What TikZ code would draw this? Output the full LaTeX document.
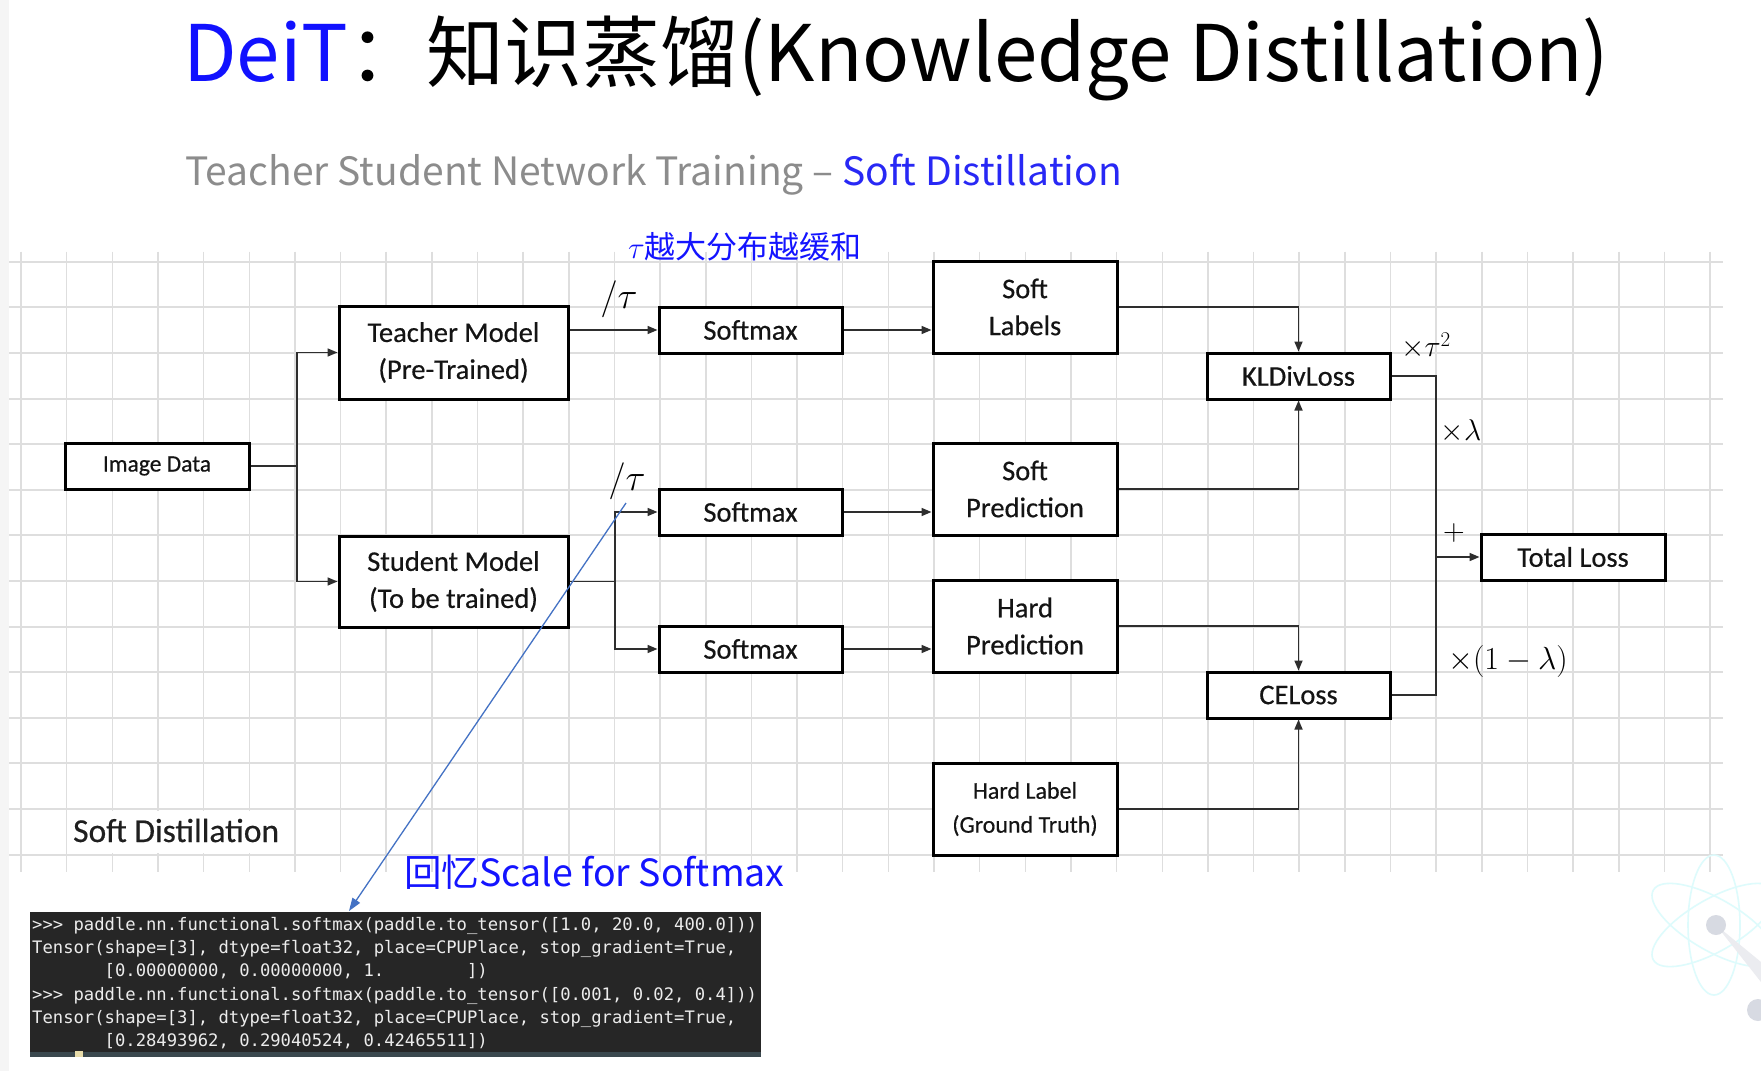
\documentclass[tikz,border=0pt]{standalone}
\usepackage{fix-cm}
\usepackage{fontspec}
\setmainfont{Carlito}[FakeBold=0.5]
\newfontfamily\cjkfont{Noto Sans CJK SC}
\newfontfamily\codefont{DejaVu Sans Mono}
\usetikzlibrary{arrows.meta,calc}
\definecolor{titleblue}{RGB}{17,17,255}
\definecolor{subblue}{RGB}{40,40,245}
\definecolor{subgray}{RGB}{140,140,140}
\definecolor{noteblue}{RGB}{20,20,255}
\definecolor{gridc}{RGB}{222,222,222}
\definecolor{linkblue}{RGB}{68,114,196}
\definecolor{codebg}{RGB}{38,38,38}
\definecolor{codefg}{RGB}{236,236,236}
\definecolor{codebar}{RGB}{58,72,78}
\definecolor{cursorc}{RGB}{232,220,170}
\definecolor{atomc}{RGB}{222,251,252}
\definecolor{dotc}{RGB}{215,218,226}
\tikzset{
  boxn/.style={draw=black, line width=3pt, fill=white, align=center, inner sep=0pt,
    text=black!92, font=\fontsize{28.5}{37}\selectfont},
  conn/.style={draw=black!82, line width=1.6pt},
  arr/.style={conn, -{Triangle[length=10pt,width=8pt]}},
  mlab/.style={inner sep=0pt, font=\fontsize{30}{36}\selectfont},
  codeline/.style={anchor=base west, inner sep=0pt, text=codefg, font=\codefont\fontsize{17.2}{20}\selectfont},
}
\newcommand\gtr{>\kern0pt>\kern0pt>}
\begin{document}
\begin{tikzpicture}[x=1pt,y=-1pt]
\useasboundingbox (0,0) rectangle (1761,1071);
\fill[white] (0,0) rectangle (1761,1071);
\fill[gray!8] (0,0) rectangle (9,1071);
% grid
\foreach \i in {0,...,37} \draw[gridc, line width=1.5pt] ({21+45.65*\i},251.7) -- ({21+45.65*\i},871.7);
\foreach \j in {0,...,13} \draw[gridc, line width=2pt] (9,{261.7+45.6*\j}) -- (1723,{261.7+45.6*\j});
% atom watermark
\begin{scope}
\clip (1600,840) rectangle (1761,1071);
\foreach \a in {0,60,-60} \draw[atomc, line width=1.6pt, rotate around={\a:(1714,925)}] (1714,925) ellipse [x radius=26, y radius=70];
\fill[dotc!50] (1716,925) -- (1761,962) -- (1761,982) -- cycle;
\fill[dotc] (1716,925) circle (10);
\fill[dotc] (1758,1010) circle (11);
\end{scope}
% titles
\node[anchor=base west, inner sep=0pt] (title) at (183,81) {\cjkfont\fontsize{78}{90}\selectfont\textcolor{titleblue}{DeiT}：知识蒸馏(Knowledge Distillation)};
\node[anchor=base west, inner sep=0pt] (subtitle) at (185,185) {\cjkfont\fontsize{39}{48}\selectfont\textcolor{subgray}{Teacher Student Network Training – }\textcolor{subblue}{Soft Distillation}};
\node[anchor=base west, inner sep=0pt, text=noteblue] (note) at (628,258) {\fontsize{31}{36}\selectfont$\tau$\cjkfont 越大分布越缓和};
% boxes
\node[boxn, minimum width=184, minimum height=46, font=\fontsize{23.5}{30}\selectfont] (img) at (157,466) {Image Data};
\node[boxn, minimum width=229, minimum height=93] (teacher) at (453.5,352.5) {Teacher Model\\(Pre-Trained)};
\node[boxn, minimum width=229, minimum height=91] (student) at (453.5,581.5) {Student Model\\(To be trained)};
\node[boxn, minimum width=183, minimum height=46] (sm1) at (750.5,330) {Softmax};
\node[boxn, minimum width=183, minimum height=46] (sm2) at (750.5,512) {Softmax};
\node[boxn, minimum width=183, minimum height=46] (sm3) at (750.5,649) {Softmax};
\node[boxn, minimum width=184, minimum height=92] (slab) at (1025,307) {Soft\\Labels};
\node[boxn, minimum width=184, minimum height=92] (spred) at (1025,489) {Soft\\Prediction};
\node[boxn, minimum width=184, minimum height=92] (hpred) at (1025,626) {Hard\\Prediction};
\node[boxn, minimum width=184, minimum height=92, font=\fontsize{24}{34}\selectfont] (hlab) at (1025,809) {Hard Label\\(Ground Truth)};
\node[boxn, minimum width=183, minimum height=46] (kl) at (1298.5,376) {KLDivLoss};
\node[boxn, minimum width=183, minimum height=46] (ce) at (1298.5,695) {CELoss};
\node[boxn, minimum width=184, minimum height=46] (total) at (1573,557) {Total Loss};
% connectors
\draw[conn] (img.east) -- ++(46.7,0) coordinate (b1);
\draw[arr] (b1) |- (teacher.west);
\draw[arr] (b1) |- (student.west);
\draw[arr] (teacher.east |- sm1.west) -- (sm1.west);
\draw[arr] (sm1.east) -- (slab.west |- sm1.east);
\draw[conn] (student.east) -- (615,581.5) coordinate (b2);
\draw[arr] (b2) |- (sm2.west);
\draw[arr] (b2) |- (sm3.west);
\draw[arr] (sm2.east) -- (spred.west |- sm2.east);
\draw[arr] (sm3.east) -- (hpred.west |- sm3.east);
\draw[arr] (slab.east) -| (kl.north);
\draw[arr] (spred.east) -| (kl.south);
\draw[arr] (hpred.east) -| (ce.north);
\draw[arr] (hlab.east) -| (ce.south);
\coordinate (m) at (1436,557);
\draw[conn] (kl.east) -| (m);
\draw[conn] (ce.east) -| (m);
\draw[arr] (m) -- (total.west);
% math labels
\node[inner sep=0pt, font=\fontsize{37}{40}\selectfont] (tau1) at (619,299) {$/\tau$};
\node[inner sep=0pt, font=\fontsize{37}{40}\selectfont] (tau2) at (627,481) {$/\tau$};
\node[mlab] (ktau) at (1426,346) {$\times\tau^2$};
\node[mlab] (klam) at (1461,431) {$\times\lambda$};
\node[mlab] (plus) at (1454,533) {$+$};
\node[mlab, font=\fontsize{32}{36}\selectfont] (clam) at (1508,661) {$\times(1-\lambda)$};
% bottom left label
\fill[white] (68,811) rectangle (294,853.3);
\node[anchor=base west, inner sep=0pt, text=black!88, font=\fontsize{33.5}{38}\selectfont] (sdlab) at (73,842) {Soft Distillation};
% recall note and code
\node[anchor=base west, inner sep=0pt, text=noteblue] (recall) at (404,886) {\cjkfont\fontsize{37.5}{44}\selectfont 回忆Scale for Softmax};
\node[anchor=north west, fill=codebg, minimum width=731, minimum height=145, inner sep=0pt] (code) at (30,912) {};
\fill[codebar] (30,1052) rectangle (761,1057);
\fill[cursorc] (75,1051) rectangle (83,1057);
\node[codeline] (c1) at (32,930) {\gtr{} paddle.nn.functional.softmax(paddle.to\_tensor([1.0, 20.0, 400.0]))};
\node[codeline] (c2) at (32,953.3) {Tensor(shape=[3], dtype=float32, place=CPUPlace, stop\_gradient=True,};
\node[codeline] (c3) at (32,976.7) {\phantom{0000000}[0.00000000, 0.00000000, 1.\phantom{00000000}])};
\node[codeline] (c4) at (32,1000) {\gtr{} paddle.nn.functional.softmax(paddle.to\_tensor([0.001, 0.02, 0.4]))};
\node[codeline] (c5) at (32,1023.3) {Tensor(shape=[3], dtype=float32, place=CPUPlace, stop\_gradient=True,};
\node[codeline] (c6) at (32,1046.7) {\phantom{0000000}[0.28493962, 0.29040524, 0.42465511])};
% link arrow
\coordinate (lnkstart) at (626,503);
\coordinate (lnkend) at (349,911);
\draw[linkblue, line width=1.3pt, -{Triangle[length=13pt,width=9pt]}] (lnkstart) -- (lnkend);
\end{tikzpicture}
\end{document}
